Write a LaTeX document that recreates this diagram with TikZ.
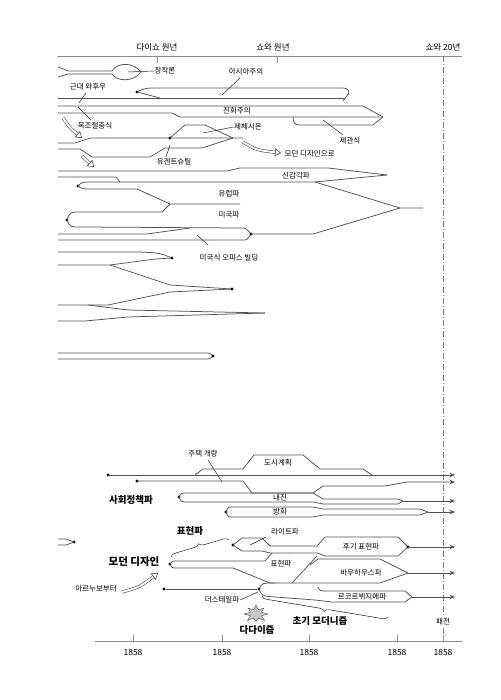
\documentclass[tikz,border=0pt]{standalone}
\usepackage{fontspec}
\setmainfont{Noto Sans CJK KR}
\usetikzlibrary{arrows.meta,decorations.pathreplacing}
\begin{document}
\begin{tikzpicture}[x=1pt,y=-1pt,
  flow/.style={draw=black!68, line width=0.75pt, line join=round},
  lead/.style={draw=black!85, line width=0.5pt},
  axis/.style={draw=black!45, line width=0.6pt},
  lbl/.style={font=\fontsize{7.5}{8}\selectfont, inner sep=0.5pt},
  blbl/.style={font=\fontsize{9.5}{10}\selectfont\bfseries, inner sep=0.5pt},
  axl/.style={font=\fontsize{8.5}{9}\selectfont, inner sep=0.5pt},
  dotn/.style={circle, fill=black, inner sep=0pt, minimum size=3.4pt},
  hollow/.style={draw=black!80, line width=0.5pt, double=white, double distance=2pt, -{Triangle[open, length=6pt, width=8pt]}},
  arr/.style={-{Stealth[length=5.5pt,width=4.5pt]}},
  ]
\useasboundingbox[fill=white] (0,0) rectangle (500,700);

% ---------- axes ----------
\draw[axis] (57,56) -- (462,56);
\draw[axis] (157,56) -- (157,63);
\draw[axis] (277,56) -- (277,63);
\node[axl] (ta) at (157,47) {다이쇼 원년};
\node[axl] (tb) at (273,47) {쇼와 원년};
\node[axl] (tc) at (443,47) {쇼와 20년};
\draw[draw=black!50, line width=0.6pt, dash pattern=on 6pt off 2pt on 1pt off 2pt] (443,56) -- (443,641);
\draw[axis] (95,641) -- (462,641);
\foreach \x [count=\i] in {133,222,309,397,443}{
  \draw[axis] (\x,641) -- (\x,635);
  \node[axl] (y\i) at (\x,652) {1858};
}
\node[lbl, fill=white, inner sep=1.5pt] (pj) at (443,622) {패전};

% ---------- 창작론 ----------
\draw[flow] (58,67) -- (68,71) -- (112,71) .. controls (117,62) and (134,62) .. (141,72)
  .. controls (134,82) and (117,82) .. (112,74) -- (68,74) -- (58,77);
\node[lbl] (cjr) at (165,71) {창작론};
\draw[lead] (128,72) -- (cjr.west);

% ---------- 아시아주의 / 근대 와후우 ----------
\node[dotn] (da) at (137,92) {};
\draw[flow] (da.center) .. controls (145,88) .. (160,88) -- (343,88) .. controls (348,88) and (349,91) .. (349,93) -- (343,101);
\draw[flow] (da.center) -- (160,98);
\draw[flow] (58,98) -- (345,98);
\node[lbl] (asia) at (246,72) {아시아주의};
\draw[lead] (222,95) -- (240,78);
\node[lbl] (kw) at (88,87) {근대 와후우};
\draw[lead] (86,93) -- (79,103);

% ---------- 진화주의 / 제관식 ----------
\draw[flow] (58,106) -- (363,106) -- (383,117);
\draw[flow] (58,113) -- (172,113) -- (180,117) -- (383,117);
\node[lbl] (jh) at (237,110.5) {진화주의};
\draw[flow] (293,117) .. controls (293,123) and (295,125) .. (300,125) -- (373,125) -- (383,117);
\node[lbl] (jg) at (350,141) {제관식};
\draw[lead] (323,120) -- (343,135);

% ---------- 목조절충식 ----------
\node[lbl] (mj) at (95,126) {목조절충식};
\draw[lead] (78,107) -- (91,120);
\draw[hollow] (63,118) .. controls (70,128) .. (82,138);
\draw[hollow] (82,156) -- (94,167);

% ---------- 유겐트슈틸 / 제체시온 ----------
\draw[flow] (58,143) -- (75,143) -- (90,138) -- (243,138);
\draw[flow] (58,149) -- (80,149) -- (92,157) -- (150,157) -- (165,148) -- (202,148) -- (233,138);
\node[dotn] (dz) at (170,138) {};
\draw[flow] (dz.center) -- (185,125) -- (205,125) -- (233,138);
\node[lbl] (zz) at (248,127) {제체시온};
\draw[lead] (203,133) -- (zz.west);
\node[lbl] (yg) at (174,162) {유겐트슈틸};
\draw[lead] (170,145) -- (166,157);
\draw[hollow] (243,142) .. controls (256,150) .. (281,153);
\node[lbl, anchor=west] (md) at (284,154) {모던 디자인으로};

% ---------- 신감각파 ----------
\draw[flow] (58,171) -- (227,171) -- (240,168) -- (328,168) -- (387,175);
\draw[flow] (58,177) -- (116,177) -- (120,182) -- (315,182) -- (387,175);
\draw[flow] (315,182) -- (400,208) -- (423,208);
\node[lbl] (sg) at (296,176) {신감각파};

% ---------- 유럽파 / 미국파 ----------
\node[dotn] (de) at (78,186) {};
\draw[flow] (de.center) .. controls (82,182) .. (95,182) -- (120,182);
\draw[flow] (de.center) .. controls (82,189) .. (95,189) -- (137,189) -- (170,204) -- (240,204);
\node[lbl] (eu) at (229,194) {유럽파};
\node[dotn] (dm) at (67,220) {};
\draw[flow] (dm.center) .. controls (70,212) .. (82,212) -- (162,212) -- (170,204);
\draw[flow] (dm.center) .. controls (70,227) .. (82,227) -- (240,228) .. controls (246,228) .. (251,234);
\node[lbl] (am) at (229,215) {미국파};

% ---------- 미국식 오피스 빌딩 ----------
\draw[flow] (58,234) -- (147,234) -- (190,228);
\draw[flow] (58,240) -- (243,240) .. controls (247,240) .. (251,234);
\node[dotn] (do) at (251,234) {};
\draw[flow] (do.center) -- (313,234) -- (400,208);
\node[lbl] (of) at (229,258) {미국식 오피스 빌딩};
\draw[lead] (197,235) -- (208,245);

% ---------- lower upper rows ----------
\draw[flow] (58,252) -- (140,252) .. controls (160,253) .. (172,258);
\draw[flow] (58,265) -- (110,265) -- (140,261) .. controls (155,259) .. (172,258);
\node[dotn] (dp) at (172,258) {};
\draw[flow] (110,265) -- (170,285) -- (232,289);
\draw[flow] (58,305) -- (108,305) -- (170,292) -- (232,289);
\node[dotn] (dq) at (232,289) {};
\draw[flow] (88,305) -- (128,310) -- (265,313);
\draw[flow] (58,321) -- (85,321) -- (128,317) -- (265,313);
\draw[flow] (58,353) -- (205,353) .. controls (210,353) .. (213,356);
\draw[flow] (58,359) -- (205,359) .. controls (210,359) .. (213,356);
\node[dotn] (dr) at (213,356) {};

% ---------- 사회정책파 ----------
\node[dotn] (s1) at (108,475) {};
\draw[flow, arr] (s1.center) -- (455,475);
\draw[flow] (195,475) -- (203,469) -- (243,469) -- (254,455) -- (303,455) -- (320,469) -- (363,469) -- (372,475);
\node[lbl] (dsg) at (278,463) {도시계획};
\node[lbl] (jt) at (203,454) {주택 개량};
\draw[lead] (208,460) -- (222,482);
\node[dotn] (s2) at (137,481) {};
\draw[flow, arr] (s2.center) -- (243,481) -- (252,493) -- (313,493) -- (323,486) -- (385,486) -- (407,482) -- (455,482);
\node[dotn] (s3) at (179,497) {};
\draw[flow] (s3.center) .. controls (181,493) .. (188,493) -- (313,493) -- (323,499) -- (398,499) -- (403,501);
\draw[flow] (s3.center) .. controls (181,502) .. (188,502) -- (313,502) -- (323,504) -- (398,504) -- (403,501);
\draw[flow, arr] (403,501) -- (455,501);
\node[lbl] (nj) at (280,498) {내진};
\node[dotn] (s4) at (226,512) {};
\draw[flow] (s4.center) .. controls (228,507) .. (234,507) -- (313,507) -- (323,509) -- (420,509) -- (428,512);
\draw[flow] (s4.center) .. controls (228,517) .. (234,517) -- (313,517) -- (323,515) -- (420,515) -- (428,512);
\draw[flow, arr] (428,512) -- (455,512);
\node[lbl] (bh) at (280,512) {방화};
\node[blbl] (sj) at (131,500) {사회정책파};

% ---------- 모던 디자인 ----------
\node[dotn] (m0) at (74,542) {};
\draw[flow] (58,539) -- (66,539) -- (m0.center);
\draw[flow] (58,545) -- (66,545) -- (m0.center);

\node[dotn] (lt) at (233,545) {};
\draw[flow] (lt.center) -- (242,538) -- (262,538) -- (270,546) -- (317,546) -- (325,537) -- (398,537) -- (408,547);
\draw[flow] (lt.center) -- (242,551) -- (262,551) -- (270,553) -- (317,553) -- (325,556) -- (398,556) -- (408,547);
\node[dotn] (hk) at (408,547) {};
\draw[flow, arr] (hk.center) -- (455,547);
\node[lbl] (ltl) at (285,532) {라이트파};
\draw[lead] (250,545) -- (266,537);
\node[lbl] (hkl) at (361,547) {후기 표현파};

\node[dotn] (m1) at (170,564) {};
\draw[flow] (m1.center) .. controls (172,561) .. (178,561) -- (265,561) -- (272,553);
\draw[flow] (m1.center) .. controls (172,568) .. (178,568) -- (233,568) -- (270,583) -- (380,583) -- (408,573);
\draw[flow] (292,583) -- (317,556);
\draw[flow] (310,565) -- (318,559) -- (380,559) -- (408,573);
\draw[flow, arr] (408,573) -- (455,573);
\node[lbl] (hpl) at (281,564) {표현파};
\node[lbl] (bhl) at (361,573) {바우하우스파};

\node[dotn] (dd1) at (164,589) {};
\node[dotn] (dd2) at (259,589) {};
\draw[flow] (dd1) -- (dd2);
\draw[flow] (dd2.center) .. controls (262,583) .. (275,583);
\draw[flow] (dd2.center) .. controls (262,596) .. (275,597) -- (315,600) -- (332,602) -- (405,602) -- (412,597);
\draw[flow] (318,587) .. controls (320,591) .. (328,591) -- (405,591) -- (412,597);
\draw[flow, arr] (412,597) -- (455,597);
\node[lbl] (lcl) at (362,597) {르코르뷔지에파};
\node[lbl] (dsl) at (222,600) {더스테일파};
\draw[lead] (dsl.east) -- (258,592);

\node[blbl] (hpb) at (190,531) {표현파};
\draw[lead, decorate, decoration={brace, amplitude=5pt}] (171,557) -- (229,540);
\node[blbl, font=\fontsize{10.5}{11}\selectfont\bfseries] (mdb) at (134,562) {모던 디자인};
\node[lbl] (an) at (96,589) {아르누보부터};
\draw[hollow] (122,592) .. controls (140,587) .. (158,573);

\begin{scope}[shift={(256,614)}, yscale=0.75]
  \draw[fill=black!22, draw=black!70, line width=0.4pt]
    (0:12) -- (22:6) -- (45:12) -- (67:6) -- (90:10) -- (112:6) -- (135:12) -- (157:6)
    -- (180:12) -- (202:6) -- (225:11) -- (247:6) -- (270:12) -- (292:6) -- (315:11) -- (337:6) -- cycle;
\end{scope}
\node[blbl] (dada) at (257,630) {다다이즘};
\draw[lead, decorate, decoration={brace, amplitude=5pt}] (388,617) -- (262,596);
\node[blbl] (cm) at (320,621) {초기 모더니즘};

\end{tikzpicture}
\end{document}
